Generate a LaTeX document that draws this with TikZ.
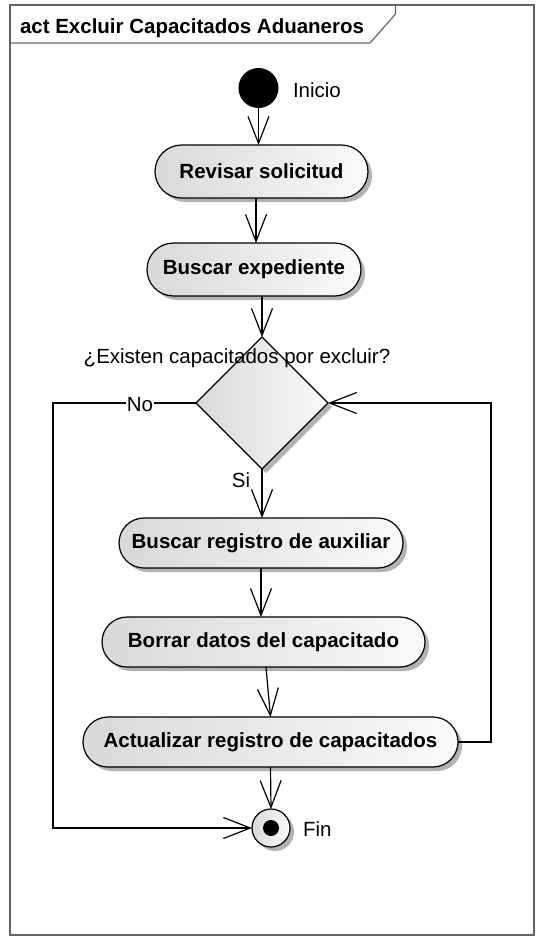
\documentclass[tikz,border=0pt]{standalone}
\usepackage{fontspec}
\setmainfont{Liberation Sans}
\usetikzlibrary{arrows.meta,shapes.geometric,shapes.misc,shadows,calc}
\begin{document}
\begin{tikzpicture}[x=1pt,y=-1pt,
 every node/.style={inner sep=0pt, outer sep=0pt},
 flow/.style={line width=1.2pt, -{Straight Barb[length=27pt,width=21pt,line width=1.2pt]}},
 gshade/.style={left color=black!15, right color=black!2},
 gshadow/.style={drop shadow={shadow xshift=4pt, shadow yshift=-4pt, fill=black!30, opacity=1}},
 actbox/.style={rounded rectangle, draw, line width=1.2pt, gshade, gshadow, font=\fontsize{20.5}{24}\selectfont\bfseries},
 lbl/.style={font=\fontsize{20.5}{24}\selectfont},
 framecol/.style={draw=black!60, line width=1.2pt}
]
\useasboundingbox (0,0) rectangle (537,937);
\draw[framecol] (10,5) rectangle (534,935);
\draw[framecol] (10,43) -- (370,43) -- (395.5,14) -- (395.5,5);
\node[anchor=base west, font=\fontsize{20.5}{24}\selectfont\bfseries] (title) at (20,33) {act Excluir Capacitados Aduaneros};

\node[circle, fill=black, minimum size=40pt] (start) at (258.5,88) {};
\node[lbl, anchor=west] (inicio) at (293,90) {Inicio};

\node[actbox, minimum width=213pt, minimum height=53pt] (rev) at (261.5,171.5) {Revisar solicitud};
\node[actbox, minimum width=214pt, minimum height=53pt] (bus) at (254,269.5) {Buscar expediente};
\node[diamond, draw, line width=1.2pt, gshade, gshadow, minimum width=132pt, minimum height=132pt, aspect=1] (dec) at (262,403) {};
\node[actbox, minimum width=284pt, minimum height=50pt] (reg) at (261,543) {Buscar registro de auxiliar};
\node[actbox, minimum width=323pt, minimum height=50pt] (bor) at (263.5,642) {Borrar datos del capacitado};
\node[actbox, minimum width=375pt, minimum height=50pt] (act) at (270.5,742) {Actualizar registro de capacitados};
\node[circle, draw, line width=1.2pt, gshade, gshadow, minimum size=38pt] (fin) at (271,828) {};
\node[circle, fill=black, minimum size=16pt] (findot) at (fin) {};
\node[lbl, anchor=west] (finl) at (303,829) {Fin};

\coordinate (r1) at (491,0);
\coordinate (l1) at (53,0);

\draw[flow] (start.south) -- (rev.north -| start.south);
\draw[flow] ($(rev.south)+(-5.5,0)$) -- ($(bus.north)+(2,0)$);
\draw[flow] ($(bus.south)+(8,0)$) -- (dec.north);
\draw[flow] (dec.south) -- (dec.south |- reg.north);
\draw[flow] (reg.south) -- (reg.south |- bor.north);
\draw[flow] ($(bor.south)+(2.5,0)$) -- (act.north);
\draw[flow] (act.south) -- (fin.north);
\draw[flow] (act.east) -| (r1 |- dec.east) -- (dec.east);
\draw[flow] (dec.west) -- (dec.west -| l1) -- (l1 |- fin.west) -- (fin.west);

\node[lbl, fill=white, inner xsep=1pt] (no) at (140,405) {No};
\node[lbl] (si) at (241,480) {Si};
\node[lbl] (q) at (237,358) {¿Existen capacitados por excluir?};
\end{tikzpicture}
\end{document}
